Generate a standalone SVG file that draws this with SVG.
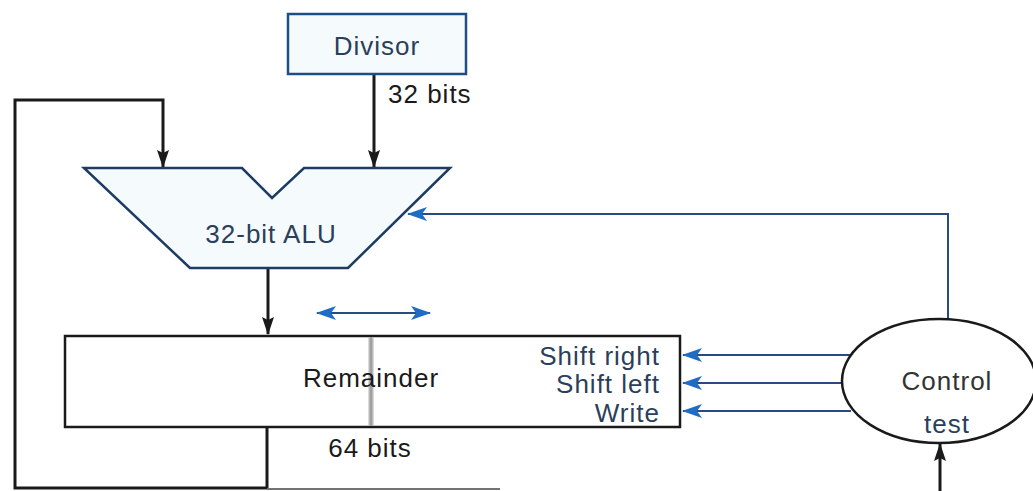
<svg xmlns="http://www.w3.org/2000/svg" width="1033" height="491" viewBox="0 0 1033 491">
<defs>
<style>
text{font-family:"Liberation Sans",Arial,sans-serif;font-size:26px;letter-spacing:1px}
.blk{stroke:#1a1a1a;stroke-width:3;fill:none}
.blu{stroke:#2a4a86;stroke-width:2;fill:none}
.navy{fill:#2b3f5c}
</style>
<marker id="ab" viewBox="0 0 18 12" refX="17" refY="6" markerWidth="18" markerHeight="12" markerUnits="userSpaceOnUse" orient="auto-start-reverse">
<path d="M0,0 L18,6 L0,12 L3,6 Z" fill="#1a1a1a"/>
</marker>
<marker id="ub" viewBox="0 0 20 14" refX="19" refY="7" markerWidth="20" markerHeight="14" markerUnits="userSpaceOnUse" orient="auto-start-reverse">
<path d="M0,0 L20,7 L0,14 L5,7 Z" fill="#1f6cc4"/>
</marker>
</defs>
<rect width="1033" height="491" fill="#fff"/>

<g id="connectors">
<polyline class="blk" points="267,427 267,488"/>
<line x1="267" y1="489" x2="500" y2="489" stroke="#444" stroke-width="1.5"/>
<polyline class="blk" points="267,488 15,488 15,100 163,100 163,167" marker-end="url(#ab)"/>
<line class="blk" x1="374" y1="74" x2="374" y2="167" marker-end="url(#ab)"/>
<line class="blk" x1="268" y1="268" x2="268" y2="334" marker-end="url(#ab)"/>
<line class="blk" x1="940" y1="491" x2="940" y2="444" marker-end="url(#ab)"/>
<polyline class="blu" points="948,319 948,214 408,214" marker-end="url(#ub)"/>
<line class="blu" x1="857" y1="355" x2="683" y2="355" marker-end="url(#ub)"/>
<line class="blu" x1="843" y1="383" x2="683" y2="383" marker-end="url(#ub)"/>
<line class="blu" x1="851" y1="411" x2="683" y2="411" marker-end="url(#ub)"/>
<line class="blu" x1="317" y1="313" x2="430" y2="313" marker-start="url(#ub)" marker-end="url(#ub)"/>
</g>

<g id="divisor">
<rect x="288" y="14" width="178" height="60" fill="#f5fafd" stroke="#1d4f86" stroke-width="2.5"/>
<text x="377" y="55" text-anchor="middle" class="navy">Divisor</text>
</g>
<text id="divisor-bits" x="388" y="103" fill="#1a1a1a">32 bits</text>

<g id="alu">
<polygon points="84,168 242,168 272,198 304,168 450,168 348,268 190,268" fill="#f5fafd" stroke="#1d3c63" stroke-width="2.5"/>
<text x="271" y="243" text-anchor="middle" class="navy">32-bit ALU</text>
</g>

<g id="remainder">
<rect x="65" y="336" width="615" height="91" fill="#fff" stroke="#1a1a1a" stroke-width="2.5"/>
<rect x="368.5" y="337" width="5" height="89" fill="#b8b8b8"/>
<line x1="371" y1="337" x2="371" y2="426" stroke="#888" stroke-width="1"/>
<text x="371" y="387" text-anchor="middle" fill="#1a1a1a">Remainder</text>
<text x="660" y="365" text-anchor="end" class="navy">Shift right</text>
<text x="660" y="393" text-anchor="end" class="navy">Shift left</text>
<text x="660" y="422" text-anchor="end" class="navy">Write</text>
</g>
<text id="remainder-bits" x="370" y="457" text-anchor="middle" fill="#1a1a1a">64 bits</text>

<g id="control">
<ellipse cx="939" cy="381" rx="97" ry="62" fill="#fff" stroke="#1a1a1a" stroke-width="2.5"/>
<text x="947" y="390" text-anchor="middle" fill="#333">Control</text>
<text x="947" y="433" text-anchor="middle" class="navy">test</text>
</g>
</svg>
